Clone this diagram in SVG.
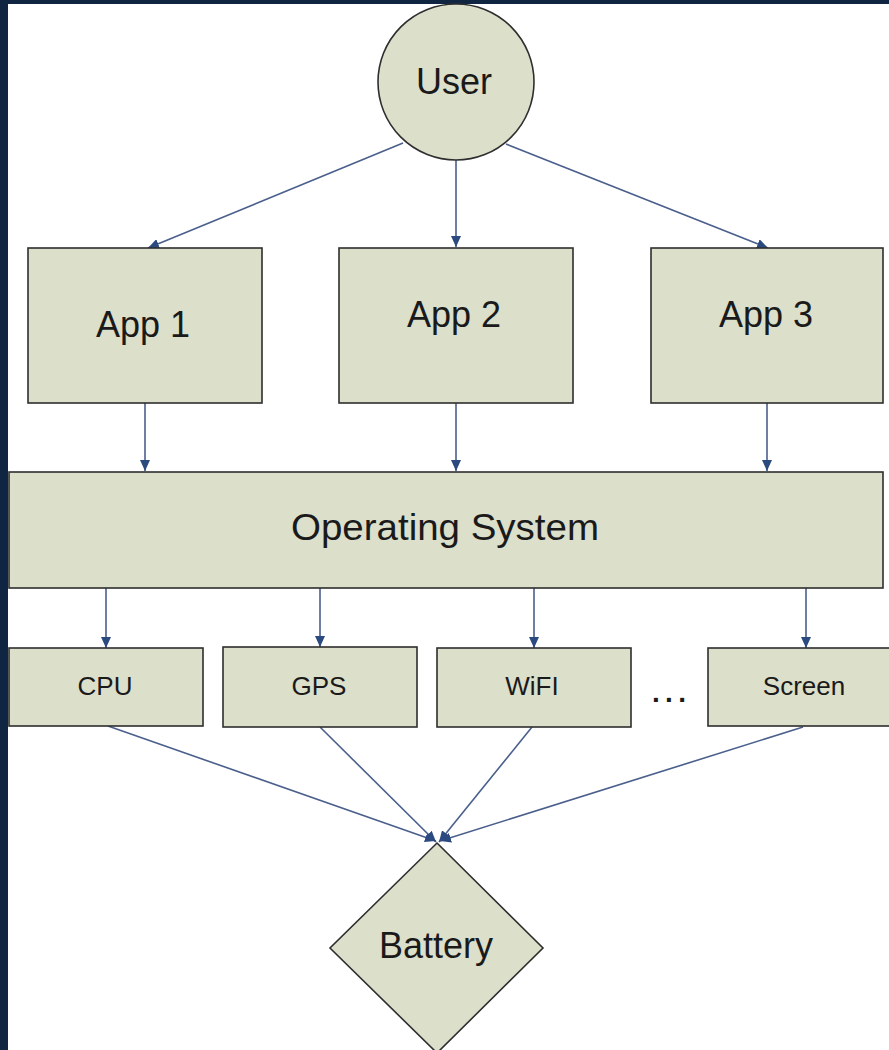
<svg xmlns="http://www.w3.org/2000/svg" width="889" height="1050" viewBox="0 0 889 1050">
<style>
.n{fill:#dcdfca;stroke:#2e2e2e;stroke-width:1.6}
.t{font-family:"Liberation Sans",Arial,sans-serif;fill:#1a1a1a;text-anchor:middle}
.big{font-size:36px}
.sm{font-size:26px}
.c{stroke:#4a5f8c;stroke-width:1.6;fill:none;marker-end:url(#ah)}
</style>
<defs>
<marker id="ah" markerUnits="userSpaceOnUse" markerWidth="12" markerHeight="10" refX="11" refY="5" orient="auto">
<path d="M0,0 L11,5 L0,10 Z" fill="#2b4a80"/>
</marker>
</defs>
<rect x="0" y="0" width="889" height="1050" fill="#ffffff"/>
<rect x="0" y="0" width="889" height="4" fill="#0f2542"/>
<rect x="0" y="0" width="8" height="1050" fill="#0f2542"/>
<g id="connectors">
<line class="c" x1="403" y1="143" x2="148" y2="248"/>
<line class="c" x1="456" y1="160" x2="456" y2="247"/>
<line class="c" x1="506" y1="144" x2="768" y2="248"/>
<line class="c" x1="145" y1="403" x2="145" y2="471"/>
<line class="c" x1="456" y1="403" x2="456" y2="471"/>
<line class="c" x1="767" y1="403" x2="767" y2="471"/>
<line class="c" x1="106" y1="588" x2="106" y2="648"/>
<line class="c" x1="320" y1="588" x2="320" y2="647"/>
<line class="c" x1="534" y1="588" x2="534" y2="648"/>
<line class="c" x1="806" y1="588" x2="806" y2="648"/>
<line class="c" x1="108" y1="726" x2="436" y2="841"/>
<line class="c" x1="320" y1="727" x2="436" y2="842"/>
<line class="c" x1="532" y1="727" x2="439" y2="842"/>
<line class="c" x1="803" y1="727" x2="440" y2="841"/>
</g>
<g id="user">
<circle class="n" cx="456" cy="82" r="78"/>
<text class="t big" x="454" y="94">User</text>
</g>
<g id="app1">
<rect class="n" x="28" y="248" width="234" height="155"/>
<text class="t big" x="143" y="337">App 1</text>
</g>
<g id="app2">
<rect class="n" x="339" y="248" width="234" height="155"/>
<text class="t big" x="454" y="327">App 2</text>
</g>
<g id="app3">
<rect class="n" x="651" y="248" width="232" height="155"/>
<text class="t big" x="766" y="327">App 3</text>
</g>
<g id="os">
<rect class="n" x="9" y="472" width="874" height="116"/>
<text class="t big" x="445" y="540" textLength="308" lengthAdjust="spacingAndGlyphs">Operating System</text>
</g>
<g id="cpu">
<rect class="n" x="9" y="648" width="194" height="78"/>
<text class="t sm" x="105" y="695">CPU</text>
</g>
<g id="gps">
<rect class="n" x="223" y="647" width="194" height="80"/>
<text class="t sm" x="319" y="695">GPS</text>
</g>
<g id="wifi">
<rect class="n" x="437" y="648" width="194" height="79"/>
<text class="t sm" x="532" y="695">WiFI</text>
</g>
<g id="ellipsis">
<text class="t" style="font-size:28px;font-weight:bold" x="669" y="702" textLength="34" lengthAdjust="spacing">...</text>
</g>
<g id="screen">
<rect class="n" x="708" y="648" width="190" height="78"/>
<text class="t sm" x="804" y="695">Screen</text>
</g>
<g id="battery">
<polygon class="n" points="437,843 543,948 437,1053 330,948"/>
<text class="t big" x="436" y="958">Battery</text>
</g>
</svg>
